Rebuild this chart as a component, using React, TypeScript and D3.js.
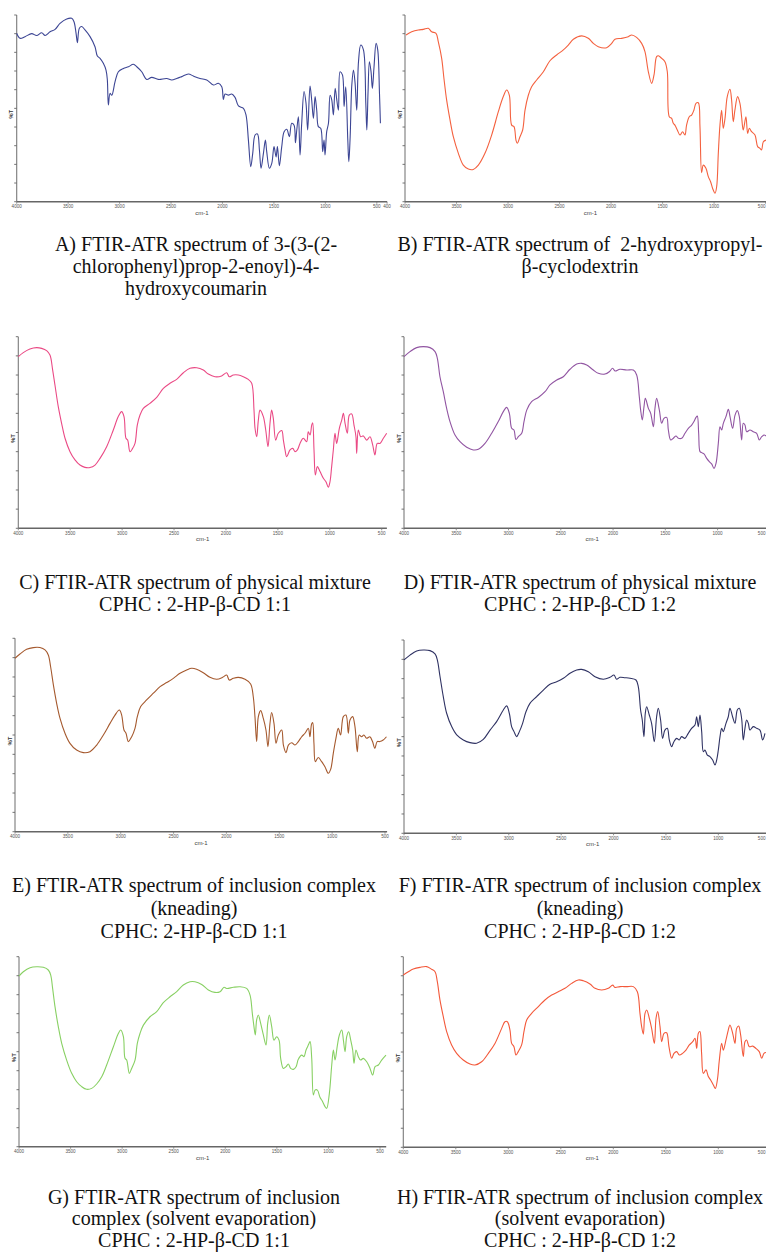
import React, { useEffect } from 'react';
import * as d3 from 'd3';

type Pt = [number, number];

// ---- Spectra: [wavenumber cm-1, relative %T (0 = bottom of frame, 100 = top)] ----
const spectrumA: Pt[] = [[4000,90.2],[3968,87.5],[3919,88.4],[3854,90],[3806,89],[3757,90.5],[3724,89],[3676,91],[3627,92.3],[3579,95.5],[3514,97.9],[3465,98.2],[3443,96.4],[3423,90.2],[3410,85.2],[3391,92.9],[3368,93.8],[3336,92],[3287,88.4],[3239,83],[3216,78],[3190,76.8],[3158,74.1],[3132,70.5],[3119,65.2],[3109,51.8],[3093,58],[3076,57],[3044,64.3],[3012,69.6],[2963,71.4],[2914,72.3],[2866,73.6],[2833,72.3],[2785,69.6],[2736,65.5],[2688,66.6],[2623,65.5],[2542,66],[2493,65.2],[2445,66],[2396,67],[2331,68.4],[2283,67.3],[2218,66],[2153,65.2],[2088,62.5],[2040,63.4],[2007,61.6],[1991,54.8],[1975,57.7],[1942,57.1],[1910,57.7],[1878,55.9],[1845,51.3],[1796,50],[1771,46.4],[1748,33],[1725,18.8],[1706,25.9],[1683,35.7],[1660,36.3],[1641,27.7],[1625,17.9],[1602,25.9],[1583,33],[1570,26.8],[1544,17.9],[1521,20.5],[1499,29.5],[1479,24],[1466,29.5],[1447,19.3],[1424,29.5],[1401,37.5],[1375,38.8],[1350,34.8],[1327,42],[1304,41],[1291,31.6],[1278,38.4],[1262,45.5],[1246,25],[1230,42],[1207,59],[1188,52.7],[1172,38.4],[1149,62],[1133,54.5],[1116,44.6],[1100,56.3],[1084,49],[1068,40.2],[1045,39.3],[1026,26.8],[1013,33],[1003,25],[987,37.5],[970,42],[954,57],[938,54.5],[922,46.4],[905,60.7],[889,54.5],[873,49],[857,69.6],[834,67.9],[818,51],[802,61.6],[782,33],[772,21.4],[759,34.8],[743,62.5],[727,70.5],[711,63.4],[695,49],[678,75],[656,83.9],[630,81.3],[607,52.7],[597,38.4],[585,59],[572,75],[556,69.6],[543,60.7],[527,72.3],[507,84.8],[491,81.3],[474,58],[465,42]];

const spectrumB: Pt[] = [[3990,89.3],[3935,91],[3871,92],[3822,92.3],[3774,92.9],[3741,91],[3699,90.2],[3677,85.7],[3644,76.8],[3622,66],[3596,54.5],[3563,43.8],[3531,34.8],[3482,25.9],[3434,19.6],[3385,17.5],[3337,17.3],[3288,19.6],[3224,25.9],[3159,35.7],[3094,48.2],[3046,56.3],[3013,59.8],[2987,57],[2965,41],[2942,40.2],[2923,33],[2910,31.3],[2884,34.8],[2858,38.4],[2835,49],[2803,57],[2771,61.6],[2722,65.2],[2657,69.6],[2593,75.5],[2528,78.6],[2463,81.3],[2415,83.9],[2366,87],[2285,88.8],[2221,87.5],[2172,84.8],[2124,83],[2043,82.5],[1994,84.8],[1962,87],[1897,87.5],[1833,88.4],[1800,89.3],[1752,88],[1703,84.8],[1671,80.4],[1638,69.6],[1606,63.4],[1583,67.9],[1558,77.7],[1541,78.2],[1509,76.8],[1477,75],[1454,69.6],[1435,45.5],[1412,44.6],[1396,42],[1380,41],[1357,38.4],[1331,35.7],[1306,37.5],[1283,35.7],[1267,41],[1241,45.5],[1218,46.4],[1196,49],[1176,52.7],[1153,53],[1137,40.2],[1121,15.5],[1105,19.6],[1079,17.9],[1056,13.4],[1034,10.7],[1014,7.1],[991,4.5],[975,8],[959,25.9],[943,41],[927,49],[911,39.3],[894,44.6],[872,56.3],[846,60.2],[830,54.5],[814,42.9],[798,49],[772,56.3],[749,52.7],[733,45.5],[717,38.4],[691,45.5],[674,36.6],[658,39.3],[636,37.5],[603,35.7],[577,29.5],[555,28.6],[539,27.7],[522,32.1],[496,33]];

const spectrumC: Pt[] = [[4000,89.6],[3952,91.7],[3888,93.6],[3823,94.3],[3775,93.9],[3727,92.7],[3695,90.4],[3669,82.6],[3647,74.8],[3615,63.5],[3583,54.8],[3550,47],[3502,40],[3454,35.7],[3406,33],[3358,31.8],[3310,31.7],[3261,33],[3213,36.5],[3149,42.6],[3085,51.3],[3037,58.3],[3005,60.9],[2982,58.3],[2963,47],[2947,46.1],[2924,40],[2899,41.7],[2876,44.3],[2854,53.9],[2828,59.1],[2796,62.6],[2732,65.2],[2667,68.3],[2603,73],[2539,75.7],[2475,77.7],[2410,81.2],[2346,83.5],[2282,83.8],[2218,82.6],[2170,80.5],[2106,79.1],[2042,79.5],[1993,81.2],[1968,79.1],[1929,80],[1881,80],[1833,79.1],[1785,77.7],[1752,75.7],[1730,61.7],[1720,52.2],[1704,47.8],[1688,56.5],[1672,61.7],[1640,58.3],[1617,51.3],[1595,42.6],[1576,54.8],[1560,61.7],[1544,57.4],[1521,46],[1496,49.6],[1463,51],[1447,46],[1431,40.9],[1415,37.4],[1383,40.9],[1357,41.7],[1335,40],[1312,40.9],[1287,44.3],[1255,47],[1223,45.2],[1207,50.4],[1190,48.7],[1174,53.9],[1165,55.1],[1152,40.9],[1139,27.8],[1120,32.2],[1094,29.6],[1062,26.1],[1037,24.3],[1014,21.4],[998,24.3],[982,32.2],[966,40.9],[950,49.6],[934,44.3],[908,52.2],[885,56.5],[869,60],[853,54.8],[831,49.6],[812,59.1],[789,59.7],[767,53.9],[748,47.8],[741,39.1],[725,51.3],[703,47.8],[677,48.2],[645,46],[613,47.8],[587,43.5],[565,38.3],[543,44.3],[517,44.3],[484,47],[452,49.6]];

const spectrumD: Pt[] = [[4000,89.6],[3943,92.2],[3879,94.3],[3815,94.8],[3751,94.3],[3703,92.2],[3681,88.7],[3656,79.1],[3624,71.3],[3592,62.6],[3560,55.7],[3512,48.7],[3464,45.2],[3400,42.3],[3337,40.9],[3289,41.2],[3225,44.3],[3161,49.6],[3098,55.7],[3050,60.9],[3018,63.1],[2992,60],[2970,52.2],[2948,51.3],[2929,46.4],[2906,47.8],[2874,49.6],[2852,55.7],[2826,61.7],[2779,66.1],[2715,68.3],[2651,71.3],[2603,74.8],[2539,77.4],[2476,79.1],[2412,83],[2348,85.7],[2300,86.1],[2252,85.2],[2189,82.6],[2141,80.9],[2077,80.5],[2036,81.7],[2004,83.5],[1981,82.1],[1934,83],[1870,82.6],[1806,82.6],[1774,80],[1749,68.7],[1736,61.7],[1720,56.5],[1704,63.5],[1691,67.8],[1662,62.6],[1640,60],[1614,53],[1599,62.6],[1583,67.8],[1557,61.7],[1535,54.8],[1513,57.4],[1487,57.9],[1471,51.3],[1449,46.1],[1423,47],[1398,48.2],[1375,47],[1343,47],[1312,49.6],[1280,52.2],[1248,53.9],[1226,55.7],[1206,57.9],[1194,58.6],[1181,49.6],[1168,40],[1152,39.5],[1130,38.8],[1104,36.5],[1079,34.8],[1057,33.6],[1034,31.3],[1015,33.9],[993,44.3],[977,53],[961,51.3],[945,54.8],[920,58.3],[897,62.1],[881,58.3],[856,52.2],[833,59.1],[811,61.4],[792,58.3],[770,46.1],[754,54.8],[738,53.9],[722,50.4],[690,51.3],[658,50.4],[626,49.6],[601,46.1],[578,47.8],[555,48.7],[536,48.2]];

const spectrumE: Pt[] = [[4000,89.7],[3953,91.9],[3890,94.3],[3827,95.2],[3764,95.2],[3716,94],[3685,91.4],[3663,85.3],[3637,75.9],[3606,66.4],[3574,58.6],[3527,50.9],[3480,45.7],[3417,42.2],[3354,40.9],[3291,41.4],[3227,44.8],[3164,50],[3101,56],[3054,60.3],[3013,62.9],[2991,60.3],[2969,52.6],[2950,50.9],[2928,46.6],[2896,49.1],[2865,53.4],[2843,59.5],[2811,64.7],[2755,68.1],[2691,71.6],[2628,75],[2565,77.1],[2502,79.3],[2439,81.9],[2376,83.6],[2329,84.5],[2282,84],[2219,82.2],[2156,79.8],[2092,78.8],[2036,79.8],[1998,81],[1973,78.4],[1935,79.3],[1887,79.8],[1824,78.8],[1771,76.4],[1746,69.8],[1730,59.5],[1714,46.6],[1698,59.5],[1676,62.6],[1651,58.6],[1626,52.6],[1607,44],[1588,56],[1572,61.6],[1550,56],[1531,45.7],[1509,50],[1477,52.6],[1461,44.8],[1436,40.9],[1414,44.8],[1383,46],[1351,44.8],[1320,46.6],[1288,49.1],[1257,50.9],[1225,53.4],[1210,49.1],[1194,55.7],[1184,56.4],[1172,45.7],[1159,36.2],[1131,38.4],[1099,36.2],[1068,33.6],[1036,30.2],[1014,32.2],[989,40.5],[964,48.3],[942,53.4],[920,50],[894,59.5],[869,60.3],[847,50.9],[831,57.8],[806,59.5],[784,54.3],[762,41.4],[744,50],[721,49.1],[700,50],[674,48.3],[643,49.1],[618,46.6],[596,43.1],[574,46.6],[549,46.6],[517,47.4],[486,49.1]];

const spectrumF: Pt[] = [[4000,89.7],[3943,92.2],[3879,94.3],[3816,94.8],[3752,94.5],[3704,92.8],[3682,89.7],[3656,81],[3625,70.7],[3593,62.1],[3545,55.2],[3497,50.9],[3434,48.3],[3370,46.9],[3307,46.6],[3243,48.6],[3179,53.4],[3116,57.8],[3052,63.8],[3020,65.9],[2995,62.1],[2973,55.2],[2950,52.6],[2925,50],[2899,52.6],[2868,56.9],[2836,62.9],[2798,67.2],[2734,70.7],[2670,74.1],[2607,77.1],[2543,78.4],[2479,80.2],[2416,82.8],[2352,84.5],[2305,84.8],[2241,83.6],[2177,81],[2098,79.7],[2034,80.7],[1996,81.9],[1971,79.7],[1939,80.7],[1891,80.5],[1843,80.2],[1786,79.3],[1764,75.9],[1742,63.8],[1726,58.6],[1710,50],[1697,62.1],[1684,65.5],[1659,61.2],[1637,56.9],[1611,47.4],[1589,60.3],[1573,64.7],[1551,58.6],[1532,49.1],[1510,53.4],[1487,54.3],[1468,48.3],[1446,44.8],[1424,47.4],[1398,49.1],[1373,48.3],[1350,50],[1319,49.1],[1287,51.7],[1255,54.3],[1223,56],[1207,60.3],[1191,55.2],[1175,61.2],[1159,52.6],[1143,42.2],[1128,43.1],[1105,40.5],[1080,39.7],[1054,37.9],[1032,35.3],[1016,37.9],[1000,43.1],[984,50],[968,54.3],[953,52.6],[927,56.9],[905,60.3],[889,64.7],[864,60.3],[841,56.9],[819,63.8],[800,64.7],[778,59.5],[762,48.3],[746,54.3],[730,58.6],[714,56.9],[698,53.4],[666,55.2],[634,54.3],[603,53.4],[577,48.3],[555,51.7]];

const spectrumG: Pt[] = [[4000,89.8],[3958,92.1],[3893,94.2],[3829,94.7],[3764,94.4],[3716,93],[3693,90.4],[3674,83.3],[3651,73.7],[3619,63.2],[3586,54.4],[3538,45.6],[3489,38.6],[3441,34.2],[3392,31.6],[3344,30.2],[3295,30.7],[3247,33],[3198,36.8],[3150,43],[3085,52.6],[3037,59.6],[3014,61.4],[2988,57.9],[2972,46.5],[2956,45.6],[2930,38.6],[2908,41.2],[2875,45.6],[2853,54.4],[2827,59.6],[2794,64],[2730,68.4],[2665,71.1],[2601,75.8],[2536,78.9],[2471,81.6],[2407,85.1],[2342,86.8],[2294,86.8],[2229,85.4],[2164,82.5],[2100,81.2],[2051,81.6],[2012,83.9],[1987,83.3],[1922,83.9],[1857,84.2],[1793,83.3],[1760,79.8],[1738,70.2],[1722,63.2],[1709,58.8],[1696,66.7],[1680,69.3],[1657,64.9],[1631,58.8],[1605,53.5],[1589,64.9],[1573,69.3],[1550,63.2],[1528,56.1],[1502,57.9],[1479,56.1],[1463,46.5],[1437,41.2],[1411,42.1],[1389,43.5],[1366,41.2],[1340,40.7],[1314,42.1],[1292,46],[1259,48.2],[1237,47.4],[1217,50.9],[1195,53.5],[1178,55.3],[1162,46.5],[1146,27.2],[1130,29.8],[1107,29.8],[1082,26],[1056,23.7],[1033,21.1],[1017,20.2],[991,28.1],[968,43],[952,50.9],[936,45.6],[913,53.5],[894,58.8],[871,61.4],[855,56.1],[839,50],[823,57.9],[804,60.5],[784,56.1],[765,50.9],[752,43.9],[733,50.9],[710,47.4],[688,45.6],[662,46.5],[629,44.7],[597,41.2],[571,37.7],[548,42.1],[516,43],[484,45.6],[442,48.2]];

const spectrumH: Pt[] = [[4000,90.4],[3952,92.1],[3905,93.5],[3841,94.4],[3778,94.8],[3730,93.4],[3698,92.1],[3676,86.9],[3651,77.3],[3619,68.5],[3587,60.7],[3540,53.7],[3492,49.3],[3429,45.8],[3365,43.7],[3317,43.2],[3254,44.9],[3190,49.3],[3127,54.5],[3063,62.4],[3032,65.9],[3009,65.9],[2984,61.5],[2968,54.5],[2946,52.8],[2927,48.4],[2905,50.2],[2873,53.7],[2851,60.7],[2825,66.8],[2778,70.3],[2714,73.8],[2651,77.3],[2587,79.9],[2524,81.6],[2460,83.4],[2397,86],[2333,87.8],[2286,87.4],[2222,85.7],[2174,83.4],[2111,82.5],[2047,83.4],[2006,85.1],[1984,83.9],[1936,84.3],[1873,84.3],[1809,84.3],[1771,81.6],[1746,70.3],[1730,63.3],[1714,59.4],[1698,70.3],[1682,72],[1657,67.7],[1635,62.4],[1609,54.5],[1593,67.7],[1577,71.2],[1555,63.3],[1539,55.4],[1517,59.8],[1492,60.1],[1470,52.8],[1444,46.7],[1422,49.3],[1397,50.2],[1371,48.4],[1340,49.3],[1308,51],[1276,53.7],[1244,55.4],[1222,57.2],[1206,51.9],[1190,59.8],[1175,60.7],[1159,49.3],[1143,38.8],[1117,40.6],[1095,37.1],[1073,35.3],[1047,32.7],[1028,30.9],[1009,35.3],[990,45.8],[968,54.5],[952,51],[927,56.3],[905,61.5],[889,64.2],[863,59.8],[841,54.5],[825,62.4],[806,63.6],[787,58.9],[762,47.6],[746,55.4],[730,56.3],[705,52.8],[673,53.1],[642,51.9],[610,50.2],[587,46.7],[565,49.3],[546,49.7]];

// ---- Text ----
const titleA = ['A) FTIR-ATR spectrum of 3-(3-(2-', 'chlorophenyl)prop-2-enoyl)-4-', 'hydroxycoumarin'];
const titleB = ['B) FTIR-ATR spectrum of  2-hydroxypropyl-', 'β-cyclodextrin'];
const titleC = ['C) FTIR-ATR spectrum of physical mixture', 'CPHC : 2-HP-β-CD 1:1'];
const titleD = ['D) FTIR-ATR spectrum of physical mixture', 'CPHC : 2-HP-β-CD 1:2'];
const titleE = ['E) FTIR-ATR spectrum of inclusion complex', '(kneading)', 'CPHC: 2-HP-β-CD 1:1'];
const titleF = ['F) FTIR-ATR spectrum of inclusion complex', '(kneading)', 'CPHC : 2-HP-β-CD 1:2'];
const titleG = ['G) FTIR-ATR spectrum of inclusion', 'complex (solvent evaporation)', 'CPHC : 2-HP-β-CD 1:1'];
const titleH = ['H) FTIR-ATR spectrum of inclusion complex', '(solvent evaporation)', 'CPHC : 2-HP-β-CD 1:2'];

const xTicks = [4000, 3500, 3000, 2500, 2000, 1500, 1000, 500];
const xTicksA = [4000, 3500, 3000, 2500, 2000, 1500, 1000, 500, 400];
const yTicks = [0, 10, 20, 30, 40, 50, 60, 70, 80, 90, 100];
const xLabel = 'cm-1';
const yLabel = '%T';

// ---- Layout (positions / styles) ----
const W = 766;
const H = 1253;
const panels = [
  { data: spectrumA, title: titleA, ticks: xTicksA, color: '#3c4594', end: 400, left: 16.7, right: 387.1, top: 15, bottom: 201.7, tx: 196, ty: 251, lh: 22 },
  { data: spectrumB, title: titleB, ticks: xTicks, color: '#f4613f', end: 400, left: 405, right: 775.9, top: 15, bottom: 201.7, tx: 580, ty: 251, lh: 22 },
  { data: spectrumC, title: titleC, ticks: xTicks, color: '#ea4a85', end: 450, left: 18.3, right: 386.9, top: 336.7, bottom: 528.3, tx: 195, ty: 589, lh: 21.5 },
  { data: spectrumD, title: titleD, ticks: xTicks, color: '#9155a2', end: 400, left: 404, right: 780.3, top: 336.7, bottom: 528.3, tx: 580, ty: 589, lh: 21.5 },
  { data: spectrumE, title: titleE, ticks: xTicks, color: '#a5592e', end: 480, left: 15, right: 387.1, top: 638.3, bottom: 831.7, tx: 194, ty: 892, lh: 23 },
  { data: spectrumF, title: titleF, ticks: xTicks, color: '#2f3263', end: 400, left: 404, right: 781.2, top: 640, bottom: 833.3, tx: 580, ty: 892, lh: 23 },
  { data: spectrumG, title: titleG, ticks: xTicks, color: '#88d063', end: 440, left: 19, right: 386.2, top: 956.7, bottom: 1146.7, tx: 194, ty: 1203.5, lh: 21.8 },
  { data: spectrumH, title: titleH, ticks: xTicks, color: '#f3593b', end: 400, left: 403.3, right: 781.3, top: 956.7, bottom: 1147.3, tx: 580, ty: 1203.5, lh: 21.8 },
];

function Panel({ p }: { p: typeof panels[number] }) {
  const x = d3.scaleLinear().domain([4000, p.end]).range([p.left, p.right]);
  const y = d3.scaleLinear().domain([0, 100]).range([p.bottom, p.top]);
  const line = d3
    .line<Pt>()
    .x((d) => x(d[0]))
    .y((d) => y(d[1]))
    .curve(d3.curveCatmullRom.alpha(0.5));
  const axisRight = Math.min(p.right, W);
  return (
    <g>
      {/* y axis */}
      <line x1={p.left} x2={p.left} y1={p.top} y2={p.bottom} stroke="#7a7a7a" strokeWidth={1.1} />
      {yTicks.map((t) => (
        <line key={t} x1={p.left - 2.5} x2={p.left} y1={y(t)} y2={y(t)} stroke="#666" strokeWidth={0.9} />
      ))}
      <text
        transform={`translate(${p.left - 3.5},${(p.top + p.bottom) / 2 + 6}) rotate(-90)`}
        fontFamily="Liberation Sans, Arial, sans-serif"
        fontSize={6}
        fontWeight="bold"
        fill="#333"
        textAnchor="middle"
      >
        {yLabel}
      </text>
      {/* x axis */}
      <line x1={p.left} x2={axisRight} y1={p.bottom} y2={p.bottom} stroke="#666" strokeWidth={1.4} />
      {p.ticks.map((t) => {
        const tx = x(t);
        const overflow = tx + 5 > W;
        return (
          <g key={t}>
            <line x1={tx} x2={tx} y1={p.bottom} y2={p.bottom + 2} stroke="#777" strokeWidth={0.8} />
            <text
              x={overflow ? W - 0.5 : tx}
              y={p.bottom + 6.5}
              fontFamily="Liberation Sans, Arial, sans-serif"
              fontSize={4.6}
              fill="#555"
              textAnchor={overflow ? 'end' : 'middle'}
            >
              {t}
            </text>
          </g>
        );
      })}
      <text
        x={(p.left + p.right) / 2}
        y={p.bottom + 13}
        fontFamily="Liberation Sans, Arial, sans-serif"
        fontSize={6}
        fill="#444"
        textAnchor="middle"
      >
        {xLabel}
      </text>
      {/* spectrum */}
      <path d={line(p.data) || ''} fill="none" stroke={p.color} strokeWidth={1.1} strokeLinejoin="round" />
      {/* caption */}
      {p.title.map((s, i) => (
        <text
          key={i}
          x={p.tx}
          y={p.ty + i * p.lh}
          fontFamily="Liberation Serif, Times New Roman, serif"
          fontSize={20}
          fill="#111"
          textAnchor="middle"
          style={{ whiteSpace: 'pre' }}
        >
          {s}
        </text>
      ))}
    </g>
  );
}

export default function App() {
  useEffect(() => {
    document.body.style.margin = '0';
    document.body.style.overflow = 'hidden';
  }, []);
  return (
    <svg
      width={W}
      height={H}
      viewBox={`0 0 ${W} ${H}`}
      style={{ position: 'absolute', left: 0, top: 0, background: '#fff' }}
    >
      <rect width={W} height={H} fill="#fff" />
      {panels.map((p, i) => (
        <Panel key={i} p={p} />
      ))}
    </svg>
  );
}
